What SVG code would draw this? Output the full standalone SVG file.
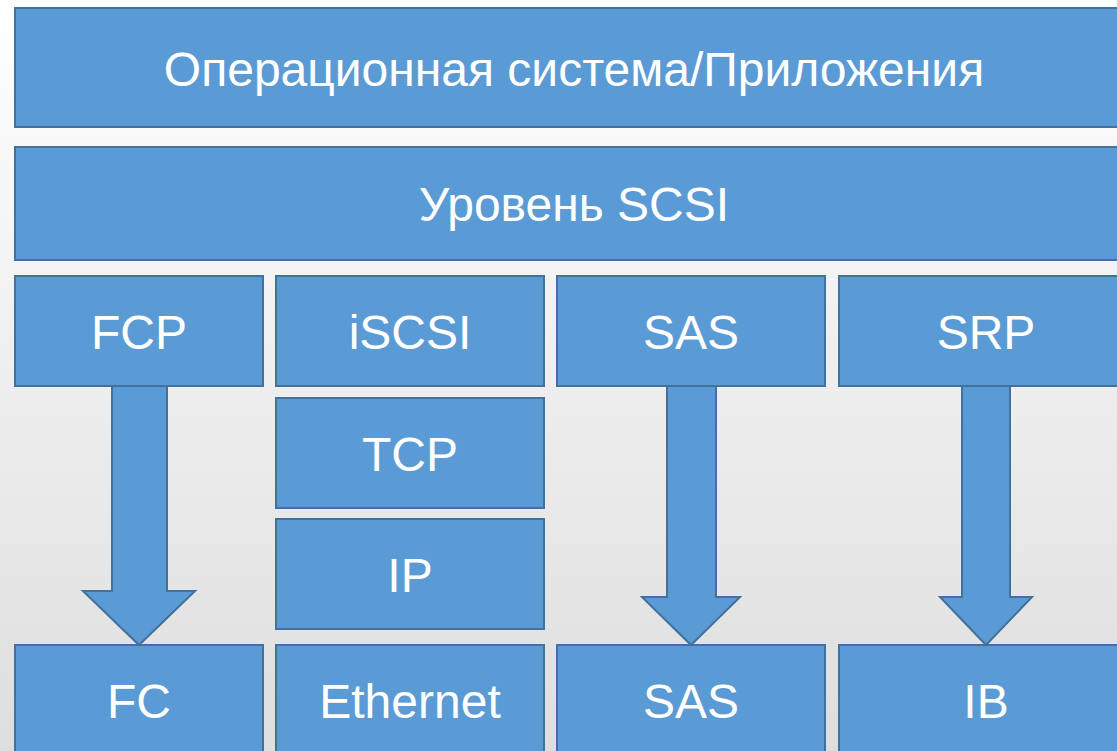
<svg xmlns="http://www.w3.org/2000/svg" width="1117" height="751" viewBox="0 0 1117 751">
<defs>
<linearGradient id="bg" x1="0" y1="0" x2="0" y2="1">
<stop offset="0" stop-color="#ffffff"/>
<stop offset="1" stop-color="#dedede"/>
</linearGradient>
<style>
.box{fill:#5B9BD5;stroke:#41719C;stroke-width:2}
.arr{fill:#5B9BD5;stroke:#41719C;stroke-width:2;stroke-linejoin:miter}
.t{font-family:"Liberation Sans",Arial,sans-serif;font-size:48px;fill:#ffffff;text-anchor:middle}
</style>
</defs>
<rect x="0" y="0" width="1117" height="751" fill="url(#bg)"/>
<g id="os"><rect class="box" x="15" y="8" width="1118" height="119"/><text class="t" x="574" y="86">Операционная система/Приложения</text></g>
<g id="scsi"><rect class="box" x="15" y="147" width="1118" height="113"/><text class="t" x="574" y="221">Уровень SCSI</text></g>
<g id="fcp"><rect class="box" x="15" y="276" width="248" height="110"/><text class="t" x="139" y="349">FCP</text></g>
<g id="iscsi"><rect class="box" x="276" y="276" width="268" height="110"/><text class="t" x="410" y="349">iSCSI</text></g>
<g id="sas-top"><rect class="box" x="557" y="276" width="268" height="110"/><text class="t" x="691" y="349">SAS</text></g>
<g id="srp"><rect class="box" x="839" y="276" width="294" height="110"/><text class="t" x="986" y="349">SRP</text></g>
<g id="tcp"><rect class="box" x="276" y="398" width="268" height="110"/><text class="t" x="410" y="471">TCP</text></g>
<g id="ip"><rect class="box" x="276" y="519" width="268" height="110"/><text class="t" x="410" y="592">IP</text></g>
<g id="fc"><rect class="box" x="15" y="645" width="248" height="112"/><text class="t" x="139" y="718">FC</text></g>
<g id="ethernet"><rect class="box" x="276" y="645" width="268" height="112"/><text class="t" x="410" y="718">Ethernet</text></g>
<g id="sas-bottom"><rect class="box" x="557" y="645" width="268" height="112"/><text class="t" x="691" y="718">SAS</text></g>
<g id="ib"><rect class="box" x="839" y="645" width="294" height="112"/><text class="t" x="986" y="718">IB</text></g>
<g id="connectors">
<polygon class="arr" points="112,386 167,386 167,591 195,591 139,645 83,591 112,591"/>
<polygon class="arr" points="667,386 716,386 716,597 740,597 691,645 642,597 667,597"/>
<polygon class="arr" points="962,386 1010,386 1010,597 1032,597 986,645 940,597 962,597"/>
</g>
</svg>
